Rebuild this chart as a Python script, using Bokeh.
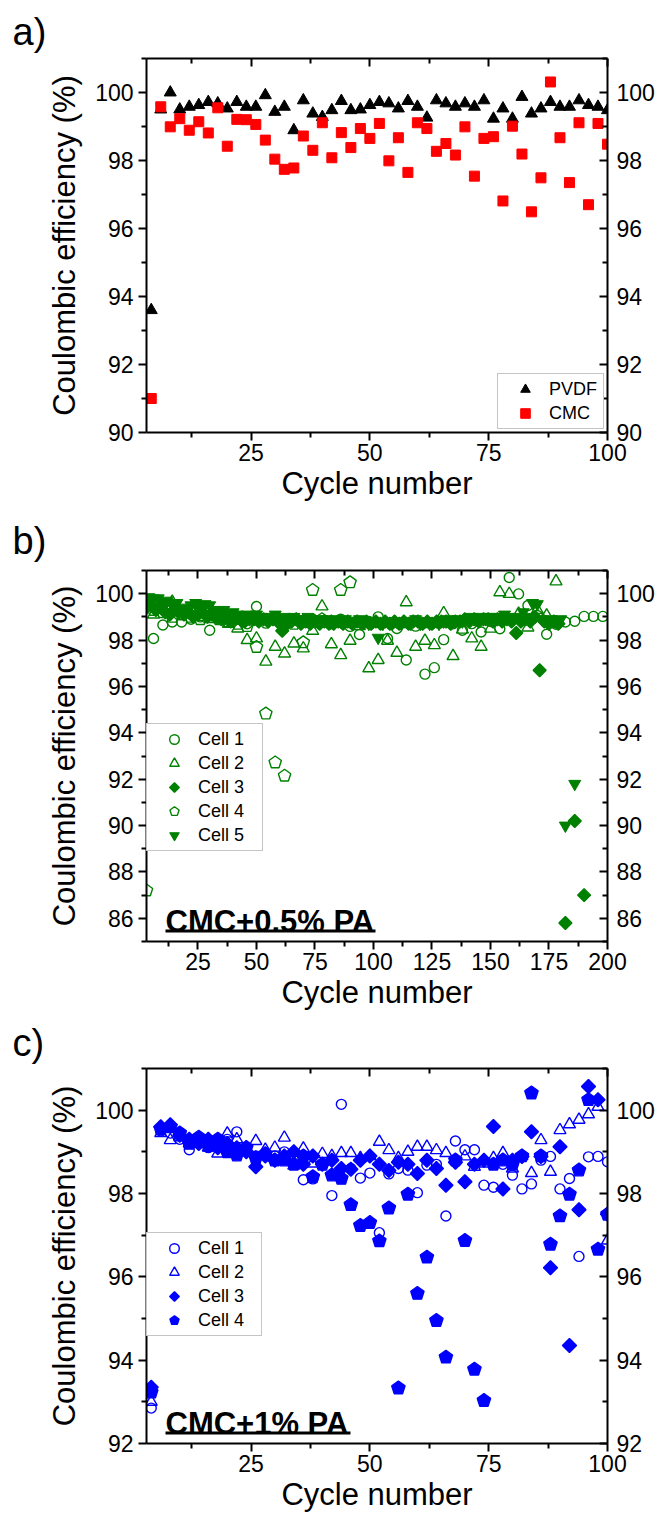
import math
from bokeh.plotting import figure
from bokeh.models import (Range1d, LinearAxis, FixedTicker, Legend, LegendItem,
                          Label, BoxAnnotation, ColumnDataSource)
from bokeh.layouts import column
from bokeh.embed import file_html
from bokeh.resources import INLINE

FONT = "Liberation Sans"
BLACK = "#000000"
RED = "#ff0000"
GREEN = "#008000"
BLUE = "#0000ff"

# ---------------- panel a ----------------
a_cycles = list(range(4, 101, 2))
a_pvdf = [93.6, 99.5, 100.0, 99.50, 99.58, 99.63, 99.72, 99.68, 99.53, 99.72,
          99.58, 99.58, 99.92, 99.43, 99.58, 98.89, 99.77, 99.38, 99.28, 99.48,
          99.75, 99.48, 99.50, 99.63, 99.72, 99.68, 99.53, 99.75, 99.58, 99.26,
          99.77, 99.68, 99.58, 99.68, 99.58, 99.77, 99.23, 99.53, 99.23, 99.87,
          99.38, 99.53, 99.72, 99.58, 99.58, 99.77, 99.63, 99.58, 99.48]
a_cmc = [91.0, 99.58, 98.99, 99.23, 98.89, 99.14, 98.81, 99.55, 98.42, 99.21,
         99.2, 99.06, 98.6, 98.04, 97.74, 97.78, 98.72, 98.3, 99.11, 98.08,
         98.82, 98.38, 98.94, 98.65, 99.09, 97.99, 98.67, 97.65, 99.11, 98.94,
         98.27, 98.5, 98.16, 98.99, 97.54, 98.65, 98.7, 96.81, 99.01, 98.19,
         96.49, 97.49, 100.31, 98.67, 97.35, 99.11, 96.7, 99.09, 98.48]

# ---------------- panel b ----------------
b1_x = list(range(6, 199, 4))
b1_y = [98.07, 98.65, 98.78, 98.78, 98.9, 99.0, 98.42, 98.9, 98.85, 98.9,
        98.7, 99.45, 98.73, 98.9, 98.8, 98.9, 98.85, 98.9, 98.8, 98.7,
        98.9, 98.59, 98.24, 98.8, 99.0, 98.07, 98.5, 97.14, 98.6, 96.53,
        96.81, 98.02, 98.7, 98.42, 98.71, 98.35, 98.8, 98.49, 100.7, 99.99,
        99.49, 99.06, 98.25, 98.68, 98.78, 98.81, 99.02, 99.02, 99.02]
b2_x = list(range(6, 179, 4))
b2_y = [99.1, 99.3, 99.65, 99.2, 99.3, 99.0, 98.9, 98.9, 98.7, 98.5,
        98.0, 98.07, 97.07, 97.71, 97.42, 97.85, 97.64, 98.4, 99.45, 97.82,
        97.35, 97.97, 98.6, 96.78, 97.14, 97.97, 97.45, 99.63, 97.71, 97.97,
        97.78, 99.16, 97.31, 98.45, 98.07, 97.71, 98.49, 100.06, 99.99, 99.13,
        98.54, 99.3, 99.06, 100.53]
b3_x = list(range(3, 180, 2)) + [182, 186, 190]
b3_y = [99.4, 99.5, 99.3, 99.4, 99.2, 99.1, 99.3, 99.2, 99.1, 99.2,
        99.0, 99.1, 99.2, 99.0, 99.1, 99.0, 98.9, 99.0, 98.8, 98.9,
        98.9, 98.8, 98.9, 98.9, 98.8, 98.9, 98.8, 98.9, 98.8, 98.4,
        98.7, 98.8, 98.9, 98.7, 98.8, 98.7, 98.8, 98.7, 98.8, 98.7,
        98.7, 98.8, 98.7, 98.8, 98.7, 98.8, 98.7, 98.8, 98.7, 98.8,
        98.7, 98.8, 98.7, 98.8, 98.7, 98.8, 98.7, 98.8, 98.8, 98.7,
        98.8, 98.7, 98.8, 98.8, 98.8, 98.7, 98.8, 98.8, 98.9, 98.8,
        98.9, 98.8, 98.9, 98.9, 98.8, 98.9, 98.8, 98.9, 98.8, 98.3,
        98.8, 98.9, 98.8, 99.0, 96.7, 98.8, 98.7, 98.8, 98.7,
        85.8, 90.2, 87.0]
b4_x = [3, 6, 10, 14, 18, 22, 26, 30, 34, 38, 42, 46, 50, 54, 58, 62, 66, 70,
        74, 78, 82, 86, 90]
b4_y = [87.2, 99.3, 99.2, 99.0, 99.1, 99.0, 98.9, 99.0, 98.9, 98.8, 98.7, 98.6,
        97.7, 94.83, 92.72, 92.15, 98.7, 97.9, 100.16, 98.9, 98.8, 100.16, 100.49]
b5_x = list(range(4, 181, 2)) + [182, 186]
b5_y = [99.85, 99.8, 99.8, 99.6, 99.7, 99.5, 99.6, 99.4, 99.3, 99.5,
        99.6, 99.5, 99.55, 99.5, 99.3, 99.2, 99.3, 99.1, 99.2, 99.1,
        99.0, 99.1, 99.0, 99.1, 99.0, 98.9, 99.0, 99.1, 98.9, 99.0,
        98.9, 99.0, 98.9, 98.9, 99.0, 98.9, 98.8, 98.9, 98.9, 98.8,
        98.9, 98.8, 98.9, 98.8, 98.8, 98.9, 98.8, 98.7, 98.8, 98.1,
        98.7, 98.8, 98.7, 98.8, 98.7, 98.8, 98.7, 98.9, 98.7, 98.8,
        98.7, 98.8, 98.7, 98.8, 98.9, 98.8, 98.9, 98.8, 98.9, 99.0,
        98.9, 99.0, 98.9, 99.0, 99.0, 98.9, 99.1, 99.0, 98.9, 99.0,
        99.2, 99.0, 99.6, 99.55, 98.9, 98.8, 98.9, 98.8, 98.9,
        90.0, 91.8]

# ---------------- panel c ----------------
c_x = list(range(4, 101, 2))
c1_y = [92.85, 99.5, 99.45, 99.3, 99.05, 99.2, 99.1, 99.2, 99.3, 99.48,
        99.1, 98.9, 98.95, 98.9, 99.0, 98.8, 98.33, 98.35, 98.7, 97.95,
        100.14, 98.6, 98.37, 98.49, 97.06, 98.47, 98.6, 98.56, 98.02, 98.68,
        98.7, 97.46, 99.26, 99.05, 99.05, 98.2, 98.15, 98.7, 98.44, 98.11,
        98.23, 98.8, 98.89, 98.11, 98.36, 96.49, 98.88, 98.89, 98.76]
c2_y = [93.0, 99.45, 99.28, 99.35, 99.2, 99.3, 99.1, 98.96, 99.44, 99.3,
        99.1, 99.26, 99.05, 99.1, 99.34, 98.67, 99.08, 98.72, 98.95, 98.9,
        98.97, 98.97, 98.85, 98.9, 99.24, 99.04, 98.85, 99.0, 99.12, 99.12,
        99.04, 98.97, 98.8, 98.89, 98.64, 98.72, 98.85, 98.97, 98.6, 98.9,
        98.49, 99.28, 98.52, 99.52, 99.66, 99.77, 99.9, 100.08, 96.87]
c3_y = [93.35, 99.6, 99.65, 99.4, 99.3, 99.2, 99.3, 99.1, 99.2, 99.1,
        99.0, 98.64, 98.9, 98.8, 98.9, 99.0, 98.7, 98.9, 98.7, 98.8,
        98.6, 98.58, 98.8, 98.9, 98.7, 98.55, 98.75, 98.7, 98.48, 98.8,
        98.6, 98.2, 98.75, 98.28, 98.7, 98.8, 99.61, 98.11, 98.8, 98.89,
        99.48, 98.89, 96.22, 99.12, 94.35, 97.61, 100.57, 100.25, 97.5]
c4_y = [93.23, 99.55, 99.6, 99.45, 99.2, 99.35, 99.15, 99.3, 99.0, 98.92,
        99.1, 98.85, 98.95, 98.8, 98.8, 98.7, 98.9, 98.4, 98.7, 98.44,
        98.36, 97.73, 97.23, 97.3, 96.86, 97.65, 93.33, 97.98, 95.6, 96.47,
        94.95, 94.07, 98.8, 96.87, 93.78, 93.03, 98.7, 98.8, 98.7, 98.9,
        100.41, 98.9, 96.78, 97.46, 97.98, 98.56, 100.25, 96.66, 97.5]

# axis tick positions
x100_major = [25, 50, 75, 100]
x100_minor = [12.5, 37.5, 62.5, 87.5]
x200_major = [25, 50, 75, 100, 125, 150, 175, 200]
x200_minor = [12.5, 37.5, 62.5, 87.5, 112.5, 137.5, 162.5, 187.5]


def style_axis(ax, inward, label_standoff):
    ax.axis_line_width = 2
    ax.axis_line_color = BLACK
    ax.major_tick_line_width = 2
    ax.minor_tick_line_width = 2
    ax.major_tick_line_color = BLACK
    ax.minor_tick_line_color = BLACK
    if inward:
        ax.major_tick_in, ax.major_tick_out = 8, 0
        ax.minor_tick_in, ax.minor_tick_out = 5, 0
    else:
        ax.major_tick_in, ax.major_tick_out = 0, 8
        ax.minor_tick_in, ax.minor_tick_out = 0, 5
    ax.major_label_text_font = FONT
    ax.major_label_text_font_size = "23px"
    ax.major_label_text_color = BLACK
    ax.major_label_standoff = label_standoff
    ax.axis_label_text_font = FONT
    ax.axis_label_text_font_size = "31px"
    ax.axis_label_text_font_style = "normal"
    ax.axis_label_text_color = BLACK


def base_fig(height, top, bottom, xr, yr, xmaj, xmin, ymaj, ymin, tag, tag_standoff):
    p = figure(width=662, height=height, x_range=Range1d(*xr), y_range=Range1d(*yr),
               output_backend="svg", toolbar_location=None,
               min_border_left=146, min_border_right=55,
               min_border_top=top, min_border_bottom=bottom,
               x_axis_label="Cycle number", y_axis_label="Coulombic efficiency (%)")
    p.outline_line_color = None
    p.xgrid.visible = False
    p.ygrid.visible = False
    p.background_fill_color = "white"
    p.border_fill_color = "white"
    p.add_layout(LinearAxis(), "right")
    p.add_layout(LinearAxis(), "above")
    p.below[0].ticker = FixedTicker(ticks=xmaj, minor_ticks=xmin)
    p.above[0].ticker = FixedTicker(ticks=xmaj, minor_ticks=xmin)
    p.left[0].ticker = FixedTicker(ticks=ymaj, minor_ticks=ymin)
    p.right[0].ticker = FixedTicker(ticks=ymaj, minor_ticks=ymin)
    style_axis(p.left[0], False, 5)
    style_axis(p.below[0], False, 3)
    style_axis(p.right[0], True, 9)
    style_axis(p.above[0], True, 0)
    p.left[0].axis_label_standoff = 10
    p.below[0].axis_label_standoff = 2
    # top axis: ticks only, no tick labels
    p.above[0].major_label_text_font_size = "1px"
    p.above[0].major_label_text_color = None
    p.above[0].major_label_standoff = 0
    # panel tag as the title, moved to the far left
    p.title.text = tag
    p.title.text_font = FONT
    p.title.text_font_size = "38px"
    p.title.text_font_style = "normal"
    p.title.text_color = BLACK
    p.title.align = "left"
    p.title.offset = -134
    p.title.standoff = tag_standoff
    return p


def make_legend(items, loc, label_w):
    return Legend(items=items, location=loc, orientation="vertical",
                  border_line_color="#8c8c8c", border_line_width=1,
                  background_fill_color="white", background_fill_alpha=1.0,
                  label_text_font=FONT, label_text_font_size="18px", label_text_color=BLACK,
                  padding=3, margin=0, spacing=0, glyph_width=48, glyph_height=24,
                  label_standoff=0, label_height=24, label_width=label_w)


def polygon_marks(p, xs, ys, n, color, filled, radius, fallback):
    src = ColumnDataSource(dict(x=xs, y=ys))
    kw = dict(line_color=color, line_width=1.4, fill_color=color if filled else None)
    try:
        return p.ngon(x="x", y="y", radius=radius, radius_units="screen", n=n,
                      angle=0, source=src, **kw)
    except Exception:
        return p.scatter(x="x", y="y", marker=fallback, size=2 * radius, source=src, **kw)


def underline_text(p, text, width):
    p.add_layout(Label(x=19, y=20, x_units="screen", y_units="screen", text=text,
                       text_font=FONT, text_font_style="bold", text_font_size="31px",
                       text_color=BLACK, text_baseline="alphabetic"))
    p.add_layout(BoxAnnotation(left=19, right=19 + width, bottom=9, top=12,
                               left_units="screen", right_units="screen",
                               bottom_units="screen", top_units="screen",
                               fill_color=BLACK, fill_alpha=1.0, line_color=None))


# ---------------- figure a ----------------
pa = base_fig(506, 58, 74, (3, 100), (90, 101), x100_major, x100_minor,
              [90, 92, 94, 96, 98, 100], [91, 93, 95, 97, 99, 101], "a)", 12)
ra1 = pa.scatter(a_cycles, a_pvdf, marker="triangle", size=12, color=BLACK)
ra2 = pa.scatter(a_cycles, a_cmc, marker="square", size=10, color=RED)
pa.add_layout(make_legend([LegendItem(label="PVDF", renderers=[ra1]),
                           LegendItem(label="CMC", renderers=[ra2])], (351, 3), 51))

# ---------------- figure b ----------------
pb = base_fig(506, 64, 67, (3, 200), (85, 101), x200_major, x200_minor,
              [86, 88, 90, 92, 94, 96, 98, 100], [85, 87, 89, 91, 93, 95, 97, 99, 101],
              "b)", 18)
rb1 = pb.scatter(b1_x, b1_y, marker="circle", size=10, line_color=GREEN, fill_color=None, line_width=1.4)
rb2 = pb.scatter(b2_x, b2_y, marker="triangle", size=12, line_color=GREEN, fill_color=None, line_width=1.4)
rb3 = polygon_marks(pb, b3_x, b3_y, 4, GREEN, True, 6.5, "diamond")
rb4 = polygon_marks(pb, b4_x, b4_y, 5, GREEN, False, 6.5, "hex")
rb5 = pb.scatter(b5_x, b5_y, marker="inverted_triangle", size=12, color=GREEN)
pb.add_layout(make_legend([LegendItem(label="Cell 1", renderers=[rb1]),
                           LegendItem(label="Cell 2", renderers=[rb2]),
                           LegendItem(label="Cell 3", renderers=[rb3]),
                           LegendItem(label="Cell 4", renderers=[rb4]),
                           LegendItem(label="Cell 5", renderers=[rb5])], (0, 90), 61))
underline_text(pb, "CMC+0.5% PA", 210)

# ---------------- figure c ----------------
pc = base_fig(505, 56, 74, (3, 100), (92, 101), x100_major, x100_minor,
              [92, 94, 96, 98, 100], [93, 95, 97, 99, 101], "c)", 10)
rc1 = pc.scatter(c_x, c1_y, marker="circle", size=10, line_color=BLUE, fill_color=None, line_width=1.4)
rc2 = pc.scatter(c_x, c2_y, marker="triangle", size=12, line_color=BLUE, fill_color=None, line_width=1.4)
rc3 = polygon_marks(pc, c_x, c3_y, 4, BLUE, True, 7, "diamond")
rc4 = polygon_marks(pc, c_x, c4_y, 5, BLUE, True, 7, "hex")
pc.add_layout(make_legend([LegendItem(label="Cell 1", renderers=[rc1]),
                           LegendItem(label="Cell 2", renderers=[rc2]),
                           LegendItem(label="Cell 3", renderers=[rc3]),
                           LegendItem(label="Cell 4", renderers=[rc4])], (0, 107), 60))
underline_text(pc, "CMC+1% PA", 185)

layout = column(pa, pb, pc, spacing=0)
open("out.html", "w").write(file_html(layout, INLINE))
